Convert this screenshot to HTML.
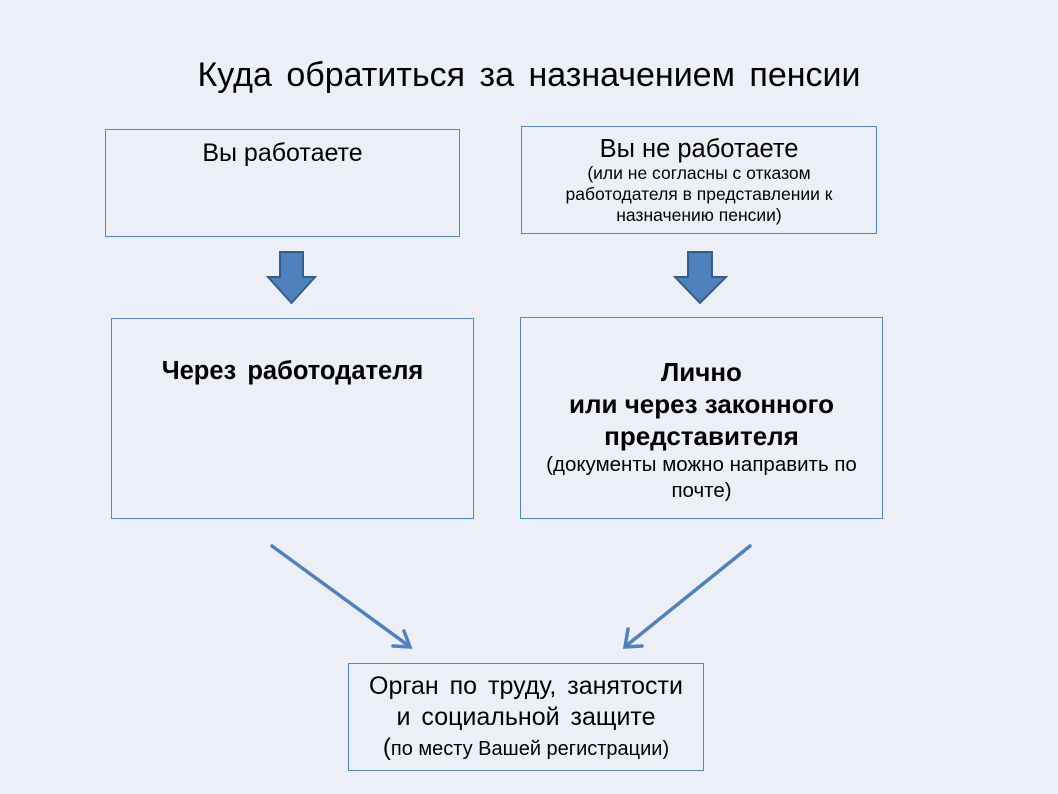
<!DOCTYPE html>
<html><head><meta charset="utf-8"><style>
body{margin:0;width:1058px;height:794px;background:#eceff5;font-family:"Liberation Sans",sans-serif;position:relative;overflow:hidden;color:#000}
.b{position:absolute;border:1px solid #4f86d0;box-sizing:border-box;text-align:center;white-space:nowrap}
.t{position:absolute;left:0;width:1058px;text-align:center;top:56px;font-size:34px;word-spacing:5px}
</style></head><body>
<div class="t">Куда обратиться за назначением пенсии</div>
<div class="b" style="left:105px;top:129px;width:355px;height:108px;font-size:25px;padding-top:9px">Вы работаете</div>
<div class="b" style="left:521px;top:126px;width:356px;height:108px;padding-top:7px"><div style="font-size:25.5px;line-height:30px">Вы не работаете</div><div style="font-size:17.5px;line-height:21px;margin-top:-1px">(или не согласны с отказом<br>работодателя в представлении к<br>назначению пенсии)</div></div>
<div class="b" style="left:111px;top:318px;width:363px;height:201px;font-size:25.5px;font-weight:bold;padding-top:38px;word-spacing:4px">Через работодателя</div>
<div class="b" style="left:520px;top:317px;width:363px;height:202px;padding-top:38px"><div style="font-size:26px;font-weight:bold;line-height:32px">Лично<br>или через законного<br>представителя</div><div style="font-size:20.5px;line-height:26px;margin-top:0px">(документы можно направить по<br>почте)</div></div>
<div class="b" style="left:348px;top:663px;width:356px;height:108px;padding-top:7px"><div style="font-size:25px;line-height:31px;word-spacing:4px">Орган по труду, занятости<br>и социальной защите</div><div style="font-size:20px;line-height:28px;margin-top:1px"><span style="font-size:24px">(</span>по месту Вашей регистрации)</div></div>
<svg width="1058" height="794" style="position:absolute;left:0;top:0">
<polygon points="280,252 303,252 303,277 315,277 291.5,303 268,277 280,277" fill="#4f81bd" stroke="#385d8a" stroke-width="2"/>
<polygon points="688,252 712,252 712,277 726,277 700,303 675,277 688,277" fill="#4f81bd" stroke="#385d8a" stroke-width="2"/>
<g stroke="#4f81bd" stroke-width="3.5" fill="none" stroke-linecap="round">
<line x1="272" y1="546" x2="409" y2="646"/><polyline points="393,646 410,647 404,631"/>
<line x1="750" y1="546" x2="626" y2="646"/><polyline points="628,629 625,647 642,646"/>
</g></svg>
</body></html>
